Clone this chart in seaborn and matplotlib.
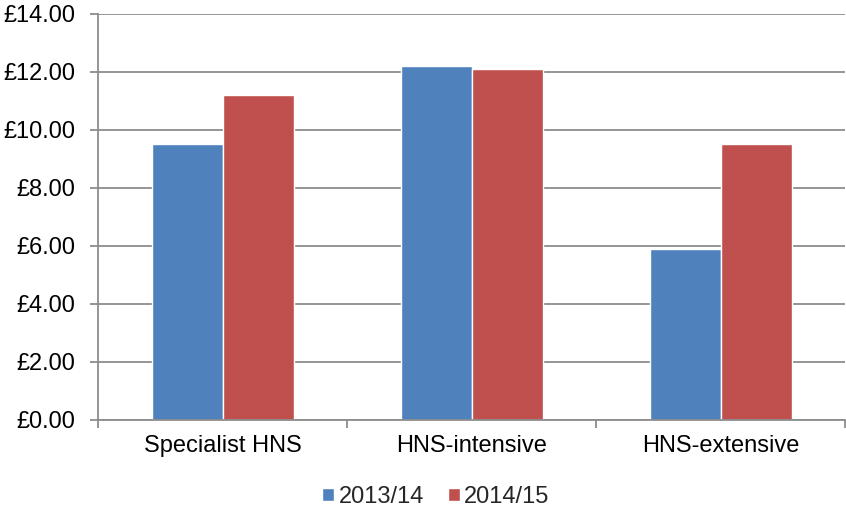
import matplotlib
matplotlib.use("Agg")
import matplotlib.pyplot as plt
import seaborn as sns
import pandas as pd
from matplotlib.ticker import FuncFormatter, FixedLocator

categories = ["Specialist HNS", "HNS-intensive", "HNS-extensive"]
series_names = ["2013/14", "2014/15"]
values_2013 = [9.5, 12.2, 5.9]
values_2014 = [11.2, 12.1, 9.5]
colors = ["#4F81BD", "#C0504D"]

df = pd.DataFrame({
    "category": categories * 2,
    "year": [series_names[0]] * 3 + [series_names[1]] * 3,
    "value": values_2013 + values_2014,
})

sns.set_theme(style="white")
plt.rcParams["font.family"] = ["Liberation Sans", "DejaVu Sans"]

FS = 17
fig = plt.figure(figsize=(8.46, 5.12), dpi=100)
ax = fig.add_axes([0.116, 0.1797, 0.883, 0.793])

sns.barplot(data=df, x="category", y="value", hue="year", palette=colors,
            width=0.57, gap=0, ax=ax, saturation=1, legend=True)

ax.set_ylim(0, 14)
ax.set_xlim(-0.5, 2.5)
ax.set_yticks(range(0, 15, 2))
ax.yaxis.set_major_formatter(FuncFormatter(lambda v, p: f"£{v:.2f}"))
ax.yaxis.grid(True, color="#8C8C8C", linewidth=1.3)
ax.set_axisbelow(True)
for s in ["top", "right"]:
    ax.spines[s].set_visible(False)
for s in ["left", "bottom"]:
    ax.spines[s].set_color("#8C8C8C")
    ax.spines[s].set_linewidth(1.3)

ax.tick_params(axis="y", which="major", left=True, length=5.5, width=1.3,
               color="#8C8C8C", labelsize=FS, pad=11, labelcolor="black")
ax.tick_params(axis="x", which="major", length=0, labelsize=FS, pad=11,
               labelcolor="black")
ax.xaxis.set_minor_locator(FixedLocator([-0.5, 0.5, 1.5, 2.5]))
ax.tick_params(axis="x", which="minor", bottom=True, length=5.5, width=1.3,
               color="#8C8C8C")
ax.set_xlabel("")
ax.set_ylabel("")

handles, labels = ax.get_legend_handles_labels()
ax.legend(handles, labels, loc="center", bbox_to_anchor=(436 / 846, 1 - 497 / 512),
          bbox_transform=fig.transFigure, ncol=2, frameon=False, fontsize=FS,
          handlelength=0.5, handleheight=0.5, handletextpad=0.2, columnspacing=1.0,
          borderpad=0, borderaxespad=0)

fig.savefig("out.png", dpi=100)
